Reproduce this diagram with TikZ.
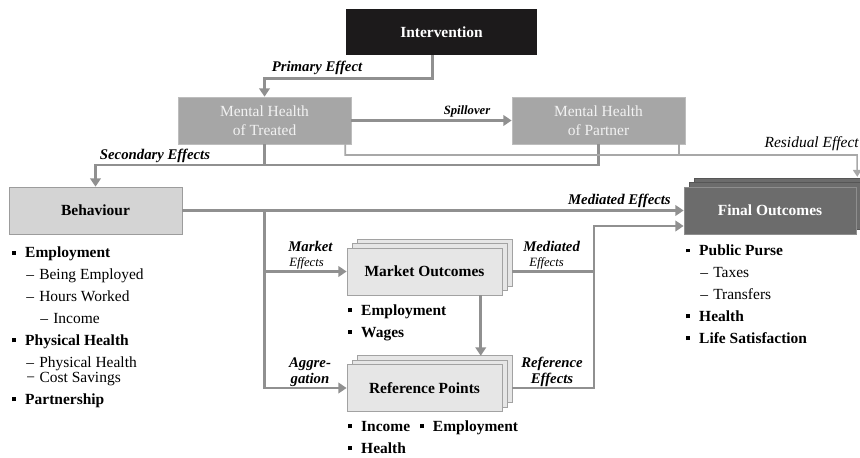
\documentclass[tikz,border=0pt]{standalone}
\usepackage{fontspec}
\setmainfont{Liberation Serif}
\usetikzlibrary{arrows.meta,shadows}

\definecolor{linegray}{HTML}{909090}
\definecolor{thingray}{HTML}{A8A8A8}
\definecolor{intfill}{HTML}{1C1A1B}
\definecolor{mhfill}{HTML}{A6A6A6}
\definecolor{mhline}{HTML}{BDBDBD}
\definecolor{behfill}{HTML}{D4D4D4}
\definecolor{behline}{HTML}{9C9C9C}
\definecolor{stkfill}{HTML}{E6E6E6}
\definecolor{stkline}{HTML}{A2A2A2}
\definecolor{finfill}{HTML}{6C6C6C}
\definecolor{finline}{HTML}{8E8E8E}

% list items: square bullet, dash, deeper dash
\newcommand{\sqb}{\raisebox{2pt}{\rule{2.8pt}{2.8pt}}}
\newcommand{\bitem}[1]{\sqb\hspace{6.4pt}\textbf{#1}}
\newcommand{\ditem}[1]{\hspace*{10pt}–\hspace{3.7pt}#1}
\newcommand{\dditem}[1]{\hspace*{20pt}–\hspace{3.7pt}#1}

\begin{document}
\begin{tikzpicture}[x=0.025cm,y=-0.025cm,
    flow/.style={draw=linegray,line width=2pt,-{Triangle[width=7.5pt,length=6pt]}},
    link/.style={draw=linegray,line width=2pt},
    thinflow/.style={draw=thingray,line width=1.1pt,-{Triangle[width=6pt,length=5pt]}},
    thinlink/.style={draw=thingray,line width=1.1pt},
    box/.style={minimum width=4.325cm,minimum height=1.175cm,inner sep=0pt,align=center,
        font=\fontsize{11}{13.5}\selectfont},
    mhbox/.style={box,fill=mhfill,draw=mhline,text=white!95!black},
    stackbox/.style={box,minimum width=3.875cm,fill=stkfill,draw=stkline,font=\fontsize{11}{13.5}\selectfont\bfseries,
        copy shadow={shadow xshift=7pt,shadow yshift=6.4pt,fill=stkfill,draw=stkline,thin},
        copy shadow={shadow xshift=3.5pt,shadow yshift=3.2pt,fill=stkfill,draw=stkline,thin}},
    lbl/.style={inner sep=0pt,font=\fontsize{10.5}{11}\selectfont\bfseries\itshape},
    small/.style={inner sep=0pt,font=\fontsize{9}{10}\selectfont\itshape},
    list/.style={anchor=base west,align=left,inner sep=0pt,font=\fontsize{11}{15.6}\selectfont}]
    \useasboundingbox (0,0) rectangle (860,458);

    % boxes
    \node[box,minimum width=4.775cm,minimum height=1.15cm,fill=intfill,text=white,font=\fontsize{11}{13.5}\selectfont\bfseries](int)at(441.5,32){Intervention};
    \node[mhbox](mht)at(264.5,120.5){Mental Health\\of Treated};
    \node[mhbox](mhp)at(598.5,120.5){Mental Health\\of Partner};
    \node[box,fill=behfill,draw=behline,font=\fontsize{11}{13.5}\selectfont\bfseries](beh)at(95.5,210.5){Behaviour};
    \node[box,minimum width=4.3cm,fill=finfill,draw=finline,text=white,font=\fontsize{11}{13.5}\selectfont\bfseries,
        copy shadow={shadow xshift=7pt,shadow yshift=6.4pt,fill=finfill,draw=finfill!80!black,thin},
        copy shadow={shadow xshift=3.5pt,shadow yshift=3.2pt,fill=finfill,draw=finfill!80!black,thin}](fin)at(770,210.5){Final Outcomes};
    \node[stackbox](mkt)at(424.5,271.5){Market Outcomes};
    \node[stackbox](refp)at(424.5,388){Reference Points};

    % lists under the boxes (placed by the baseline of their last line)
    \node[list](behlist)at(12,404){\bitem{Employment}\\\ditem{Being Employed}\\\ditem{Hours Worked}\\\dditem{Income}\\
        \bitem{Physical Health}\\\ditem{Physical Health}\\[-4.9pt]\hspace*{10pt}−\hspace{3.2pt}Cost Savings\\\bitem{Partnership}};
    \node[list](mktlist)at(348,337){\bitem{Employment}\\\bitem{Wages}};
    \node[list](reflist)at(348,453){\bitem{Income}\hspace{7pt}\bitem{Employment}\\\bitem{Health}};
    \node[list](finlist)at(686,343){\bitem{Public Purse}\\\ditem{Taxes}\\\ditem{Transfers}\\\bitem{Health}\\\bitem{Life Satisfaction}};

    % connectors
    \coordinate(sec)at(95.5,165);
    \coordinate(res)at(857,155);
    \coordinate(resend)at([xshift=0.7pt,yshift=7pt]fin.north east);
    \coordinate(merge)at(594,226);

    \draw[flow]([xshift=-6.5pt]int.south)--++(0,23)-|(mht.north);
    \draw[flow](mht.east)--(mhp.west);
    \draw[flow](mhp.south)|-(sec)--(beh.north);
    \draw[link](mht.south)--(mht.south|-sec);
    \draw[thinflow]([xshift=-4.3pt]mht.south east)|-(res)--(resend);
    \draw[thinlink]([xshift=-4.3pt]mhp.south east)--++(0,11);
    \draw[flow](beh.east)--(fin.west);
    \draw[flow](mht.south|-beh.east)|-(refp.west);
    \draw[flow](mht.south|-mkt.west)--(mkt.west);
    \draw[flow]([xshift=40pt]mkt.south)--([xshift=40pt,yshift=6pt]refp.north);
    \draw[link]([xshift=7pt]mkt.east)--(mkt.east-|merge);
    \draw[flow]([xshift=7pt]refp.east)-|(merge)--(merge-|fin.west);

    % connector labels
    \node[lbl,anchor=base](prim)at(317,72){Primary Effect};
    \node[lbl,font=\fontsize{9}{10}\selectfont\bfseries\itshape,anchor=base](spill)at(467,115){Spillover};
    \node[lbl,anchor=base](secl)at(155,160){Secondary Effects};
    \node[inner sep=0pt,font=\fontsize{11}{12}\selectfont\itshape,anchor=base east](resl)at(859,148){Residual Effect};
    \node[lbl,anchor=base east](medl)at(671,205){Mediated Effects};
    \node[lbl,anchor=base west](mktl)at(288,251){Market};
    \node[small,anchor=base west](mkte)at(289,267){Effects};
    \node[lbl,anchor=base west](medr)at(523,251){Mediated};
    \node[small,anchor=base west](mede)at(529,267){Effects};
    \node[lbl,align=center,anchor=base,font=\fontsize{10.5}{11.2}\selectfont\bfseries\itshape](aggl)at(310,383){Aggre-\\gation};
    \node[lbl,align=center,anchor=base,font=\fontsize{10.5}{11.2}\selectfont\bfseries\itshape](refl)at(552,383){Reference\\Effects};
\end{tikzpicture}
\end{document}
